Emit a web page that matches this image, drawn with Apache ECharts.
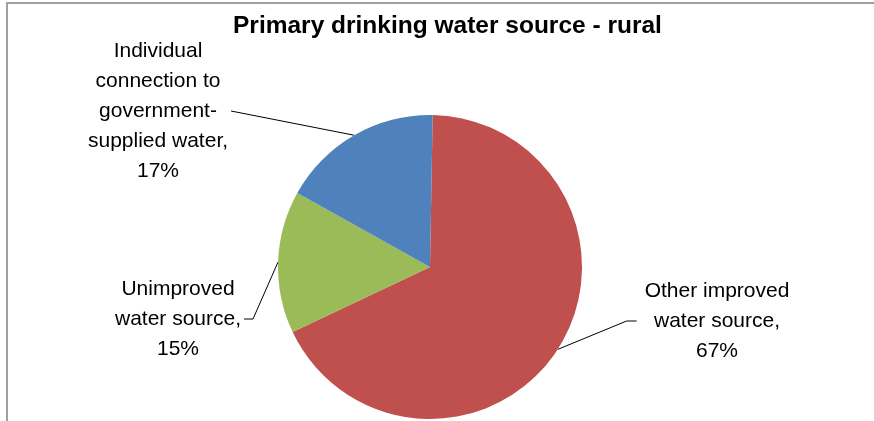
<!DOCTYPE html>
<html>
<head>
<meta charset="utf-8">
<script src="https://cdn.jsdelivr.net/npm/echarts@6/dist/echarts.min.js"></script>
<style>
    html, body { margin: 0; padding: 0; background: #fff; }
    #chart { position: absolute; left: 0; top: 0; width: 874px; height: 421px; }
    #frame {
        position: absolute; left: 6px; top: 2px; width: 880px; height: 430px;
        border-left: 2px solid #a0a0a0; border-top: 2px solid #a0a0a0; pointer-events: none;
    }
</style>
</head>
<body>
<div id="chart"></div>
<div id="frame"></div>
<script>
// 扇区顺序：从 12 点方向顺时针
const sourceNames = [
    "Other improved\nwater source",
    "Unimproved\nwater source",
    "Individual\nconnection to\ngovernment-\nsupplied water",
]
const sourceShares = [67, 15, 17]
const sliceColors = ["#C0504D", "#9BBB59", "#4F81BD"]

// 标签块中心位置（像素）与引导线水平段长度
const labelCenters = [
    [717, 321],
    [178, 319],
    [158, 111],
]
const labelBends = [10, 9, 0]

const pieCenter = [430, 267]

const chart = echarts.init(document.getElementById("chart"))

chart.setOption({
    animation: false,
    title: {
        text: "Primary drinking water source - rural",
        left: 233,
        top: 14,
        padding: 0,
        textStyle: {
            fontFamily: "Liberation Sans, Arial, sans-serif",
            fontSize: 24.5,
            fontWeight: "bold",
            color: "#000",
        },
    },
    series: [
        {
            type: "pie",
            center: pieCenter,
            radius: 152,
            startAngle: 89,
            clockwise: true,
            avoidLabelOverlap: false,
            data: sourceNames.map((name, i) => ({
                name,
                value: sourceShares[i],
                itemStyle: { color: sliceColors[i] },
            })),
            label: {
                show: true,
                position: "outside",
                formatter: "{b},\n{c}%",
                fontFamily: "Liberation Sans, Arial, sans-serif",
                fontSize: 21,
                lineHeight: 30,
                color: "#000",
                align: "center",
            },
            labelLine: {
                show: true,
                lineStyle: { color: "#000", width: 1 },
            },
            emphasis: { disabled: true },
            labelLayout: params => {
                const [cx, cy] = labelCenters[params.dataIndex]
                const w = params.labelRect.width
                const start = params.labelLinePoints ? params.labelLinePoints[0] : [cx, cy]
                const onLeft = cx < pieCenter[0]
                const endX = onLeft ? cx + w / 2 + 3 : cx - w / 2 - 8
                const bend = labelBends[params.dataIndex]
                const bendX = onLeft ? endX + bend : endX - bend
                return {
                    x: cx,
                    y: cy,
                    align: "center",
                    verticalAlign: "middle",
                    labelLinePoints: [start, [bendX, cy], [endX, cy]],
                }
            },
        },
    ],
})
</script>
</body>
</html>
